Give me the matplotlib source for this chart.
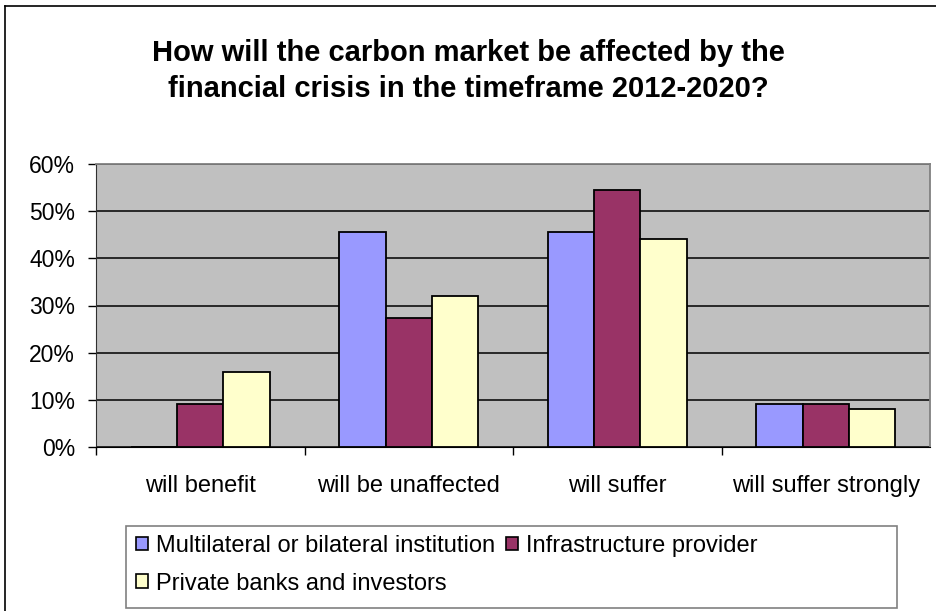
import numpy as np
import matplotlib.pyplot as plt
from matplotlib.patches import Rectangle, Patch
from matplotlib.lines import Line2D
from matplotlib.ticker import PercentFormatter

categories = ["will benefit", "will be unaffected", "will suffer", "will suffer strongly"]
series_names = ["Multilateral or bilateral institution", "Infrastructure provider",
                "Private banks and investors"]
multilateral = [0.0, 45.5, 45.5, 9.1]
infrastructure = [9.1, 27.3, 54.5, 9.1]
private = [16.0, 32.0, 44.0, 8.0]
colors = ["#9999FF", "#993366", "#FFFFCC"]

plt.rcParams['font.family'] = ['Liberation Sans', 'DejaVu Sans']

W, H = 936, 611
fig = plt.figure(figsize=(W / 100, H / 100), dpi=100)
ax = fig.add_axes([96 / W, 1 - 447 / H, (930 - 96) / W, (447 - 164) / H])
ax.set_facecolor("#C0C0C0")

x = np.arange(len(categories))
bw = 1 / 4.5  # excel gap width 150%
for i, (vals, name) in enumerate(zip([multilateral, infrastructure, private], series_names)):
    ax.bar(x + (i - 1) * bw, vals, width=bw, color=colors[i], edgecolor="black",
           linewidth=1.3, label=name, zorder=3)

ax.set_xlim(-0.5, len(categories) - 0.5)
ax.set_ylim(0, 60)
ax.set_yticks(np.arange(0, 61, 10))
ax.yaxis.set_major_formatter(PercentFormatter(decimals=0))
ax.yaxis.grid(True, color="black", linewidth=1.1, zorder=1)
ax.set_axisbelow(True)

ax.set_xticks(x)
ax.set_xticklabels(categories)
ax.set_xticks(np.arange(-0.5, len(categories) - 0.5, 1), minor=True)
ax.tick_params(axis="x", which="major", length=0, pad=20, labelsize=17)
ax.tick_params(axis="x", which="minor", length=6, width=1, direction="out")
ax.tick_params(axis="y", length=6, width=1, direction="out", pad=9, labelsize=16.5)

for s in ["top", "right"]:
    ax.spines[s].set_color("#808080")
    ax.spines[s].set_linewidth(1.3)
ax.spines["left"].set_color("#303030")
ax.spines["bottom"].set_color("black")

fig.text(0.5, 1 - 61 / H, "How will the carbon market be affected by the",
         ha="center", va="baseline", fontsize=21, fontweight="bold")
fig.text(0.5, 1 - 97 / H, "financial crisis in the timeframe 2012-2020?",
         ha="center", va="baseline", fontsize=21, fontweight="bold")

# chart border (cropped at right and bottom)
fig.add_artist(Line2D([5 / W, 5 / W], [0, 1 - 6 / H], transform=fig.transFigure,
                      color="black", linewidth=1.2))
fig.add_artist(Line2D([5 / W, 1], [1 - 6 / H, 1 - 6 / H], transform=fig.transFigure,
                      color="black", linewidth=1.2))

# legend box
fig.add_artist(Rectangle((126 / W, 1 - 608 / H), (897 - 126) / W, (608 - 526) / H,
                         transform=fig.transFigure, facecolor="white",
                         edgecolor="#808080", linewidth=1.2))
handles = [Patch(facecolor=c, edgecolor="black", linewidth=1.2) for c in colors]
order = [0, 2, 1]
leg = fig.legend([handles[i] for i in order], [series_names[i] for i in order],
                 ncol=2, loc="upper left", bbox_to_anchor=(136 / W, 1 - 535 / H),
                 frameon=False, fontsize=17, handlelength=0.5, handleheight=0.5,
                 handletextpad=0.35, columnspacing=0.45, labelspacing=0.66,
                 borderpad=0, borderaxespad=0)

fig.savefig("out.png", dpi=100)
